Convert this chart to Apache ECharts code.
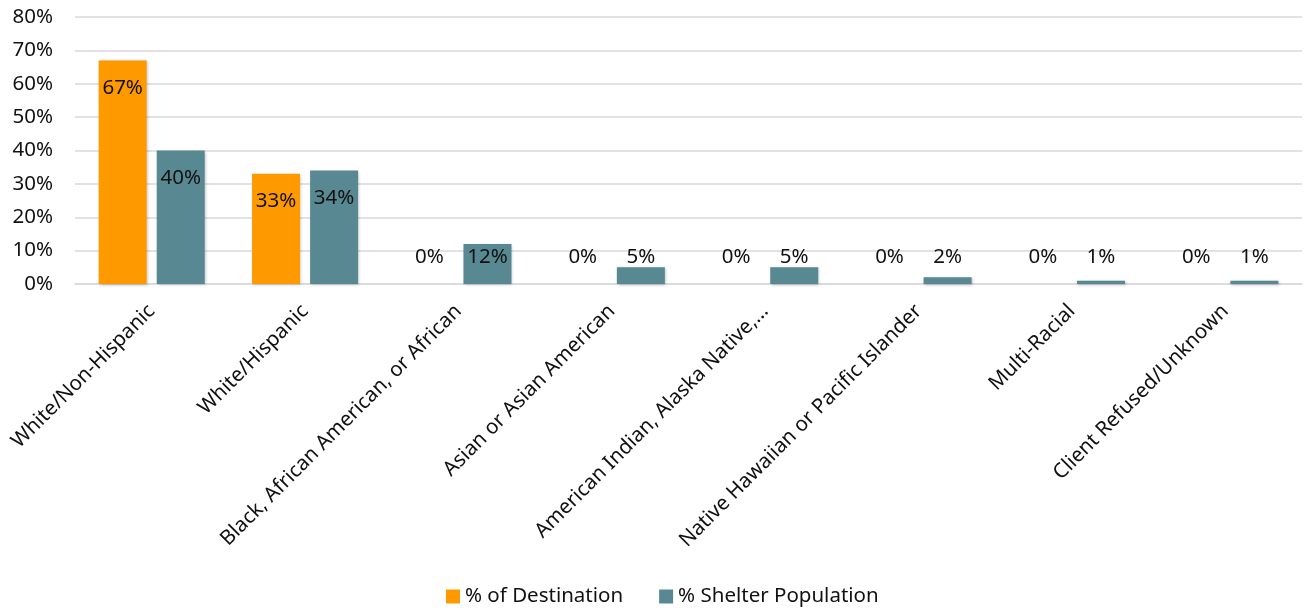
<!DOCTYPE html>
<html>
<head>
<meta charset="utf-8">
<script src="https://cdn.jsdelivr.net/npm/echarts@6/dist/echarts.min.js"></script>
<style>
  html, body { margin: 0; padding: 0; background: #ffffff; }
  #chart { width: 1307px; height: 614px; }
</style>
</head>
<body>
<div id="chart"></div>
<script>
// Race / ethnicity breakdown: share of destination vs. share of shelter population
const categories = [
  'White/Non-Hispanic',
  'White/Hispanic',
  'Black, African American, or African',
  'Asian or Asian American',
  'American Indian, Alaska Native,…',
  'Native Hawaiian or Pacific Islander',
  'Multi-Racial',
  'Client Refused/Unknown'
];
const destinationPct = [67, 33, 0, 0, 0, 0, 0, 0];
const shelterPct = [40, 34, 12, 5, 5, 2, 1, 1];
const yTicks = [0, 10, 20, 30, 40, 50, 60, 70, 80];

const FONT = '"Noto Sans", "Open Sans", sans-serif';
const FS = 20.5;

// Tall bars carry their label just inside the top; short ones get it above the baseline
function labelledData(values) {
  return values.map(v => {
    if (v >= 20) {
      return { value: v, label: { position: 'insideTop', distance: 17 } };
    }
    return { value: v, label: { position: 'insideBottom', distance: 16 } };
  });
}

const barShadow = {
  shadowBlur: 3,
  shadowColor: 'rgba(0,0,0,0.25)',
  shadowOffsetX: 1,
  shadowOffsetY: 1
};

const labelStyle = {
  show: true,
  color: '#111111',
  fontFamily: FONT,
  fontSize: FS,
  formatter: p => p.value + '%'
};

const chart = echarts.init(document.getElementById('chart'), null, { renderer: 'canvas' });
chart.setOption({
  animation: false,
  textStyle: { fontFamily: FONT },
  grid: { left: 75, right: 5, top: 17, bottom: 330, containLabel: false },
  legend: {
    bottom: 2,
    left: 441,
    itemWidth: 14,
    itemHeight: 14,
    itemGap: 36,
    icon: 'rect',
    textStyle: { fontFamily: FONT, fontSize: FS, color: '#111111' },
    data: ['% of Destination', '% Shelter Population']
  },
  xAxis: {
    type: 'category',
    data: categories,
    axisLine: { show: true, lineStyle: { color: '#d9d8de', width: 1.5 } },
    axisTick: { show: false },
    axisLabel: {
      rotate: 45,
      interval: 0,
      margin: 24,
      fontFamily: FONT,
      fontSize: FS,
      color: '#111111'
    }
  },
  yAxis: {
    type: 'value',
    min: yTicks[0],
    max: yTicks[yTicks.length - 1],
    interval: 10,
    axisLine: { show: false },
    axisTick: { show: false },
    axisLabel: {
      margin: 22,
      fontFamily: FONT,
      fontSize: FS,
      color: '#111111',
      formatter: v => v + '%'
    },
    splitLine: { lineStyle: { color: '#d9d8de', width: 1.5 } }
  },
  series: [
    {
      name: '% of Destination',
      type: 'bar',
      barWidth: 48,
      barGap: '21%',
      itemStyle: Object.assign({ color: '#ff9900' }, barShadow),
      label: labelStyle,
      data: labelledData(destinationPct)
    },
    {
      name: '% Shelter Population',
      type: 'bar',
      barWidth: 48,
      itemStyle: Object.assign({ color: '#588892' }, barShadow),
      label: labelStyle,
      data: labelledData(shelterPct)
    }
  ]
});
</script>
</body>
</html>
